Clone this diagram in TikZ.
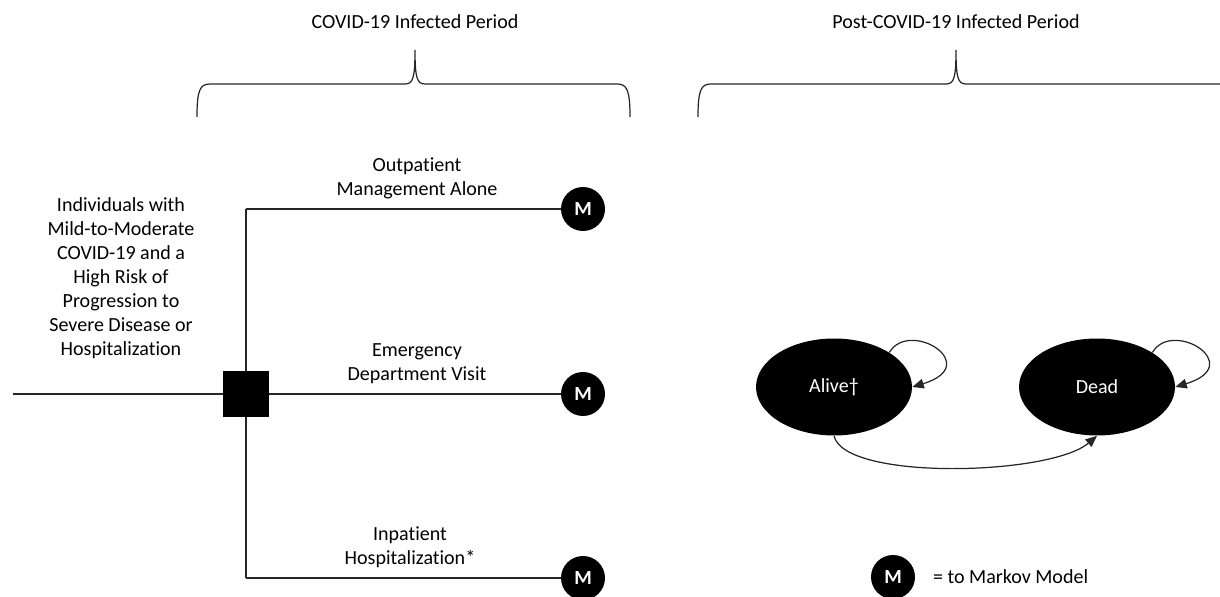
\documentclass[tikz,border=0pt]{standalone}
\usepackage{fontspec}
\setmainfont{Carlito}[Ligatures=NoCommon]
\usetikzlibrary{arrows.meta,positioning,shapes.geometric}

\begin{document}
\begin{tikzpicture}[x=0.02cm, y=-0.02cm, font=\fontsize{11.4}{13.6}\selectfont,
  conn/.style={draw=black!85, line width=0.7pt},
  arr/.style={conn, -{Triangle[length=6.5pt,width=5.5pt]}},
  mnode/.style={circle, fill=black, text=white, minimum size=0.88cm, inner sep=0pt, font=\fontsize{11.4}{13}\selectfont\bfseries},
  state/.style={ellipse, fill=black, text=white, minimum width=3.12cm, minimum height=1.94cm, inner sep=0pt},
  lbl/.style={align=center, anchor=south}]
\path[use as bounding box] (0,0) rectangle (1220,597);
\clip (0,0) rectangle (1220,597);
\foreach \X/\l/\m/\r [count=\N] in {COVID-19 Infected Period/197/415/630, Post-COVID-19 Infected Period/698/956/1260}
{\draw[conn] (\l,117) .. controls (\l,90) and (\l+3,84) .. (\l+13,84) -- (\m-10,84) .. controls (\m-2,84) and (\m,78) .. (\m,50) .. controls (\m,78) and (\m+2,84) .. (\m+10,84) -- (\r-13,84) .. controls (\r-3,84) and (\r,90) .. (\r,117);
\node (period\N) at (\m,22) {\X};}

\node[align=center] (pop) at (121,278) {Individuals with\\Mild-to-Moderate\\COVID-19 and a\\High Risk of\\Progression to\\Severe Disease or\\Hospitalization};
\coordinate (start) at (13,394);
\node[fill=black, minimum size=0.92cm, inner sep=0pt] (dec) at (246,394) {};
\draw[conn] (start) -- (dec);
\foreach \Y/\X/\nm/\lx in {209/{Outpatient\\Management Alone}/out/417, 394/{Emergency\\Department Visit}/ed/417, 578/{Inpatient\\Hospitalization*}/inp/410}
{\node[mnode] (m\nm) at (583,\Y) {M};
\draw[conn] (dec.center |- m\nm) -- (m\nm);
\node[lbl] (l\nm) at (\lx,\Y-4) {\X};}
\draw[conn] (dec.center |- mout) -- (dec.center |- minp);
\node[fill=black, minimum size=0.92cm, inner sep=0pt] at (dec) {};

\node[state] (alive) at (834,387) {Alive†};
\node[state] (dead) at (1097,387) {Dead};
\draw[arr] (alive.north east) .. controls +(20,-34) and +(72,-22) .. (alive.east);
\draw[arr] (dead.north east) .. controls +(20,-34) and +(72,-22) .. (dead.east);
\draw[arr] (alive.south) .. controls +(10,45) and +(-47,40) .. (dead.south);

\node[mnode] (mkey) at (893,577) {M};
\node[right=0.23cm of mkey] (keytxt) {= to Markov Model};
\end{tikzpicture}
\end{document}
